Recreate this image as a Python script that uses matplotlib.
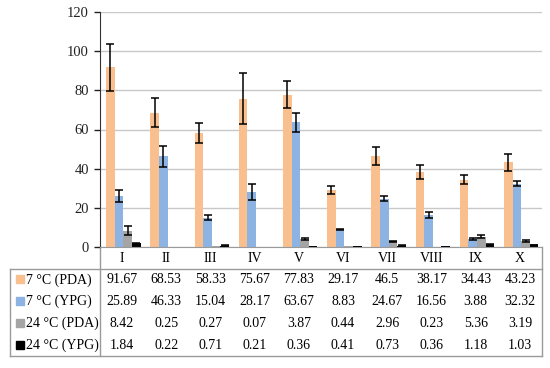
import matplotlib
matplotlib.use("Agg")
import matplotlib.pyplot as plt
import numpy as np

categories = ["I", "II", "III", "IV", "V", "VI", "VII", "VIII", "IX", "X"]
series_names = ["7 °C (PDA)", "7 °C (YPG)", "24 °C (PDA)", "24 °C (YPG)"]
pda7 = [91.67, 68.53, 58.33, 75.67, 77.83, 29.17, 46.5, 38.17, 34.43, 43.23]
ypg7 = [25.89, 46.33, 15.04, 28.17, 63.67, 8.83, 24.67, 16.56, 3.88, 32.32]
pda24 = [8.42, 0.25, 0.27, 0.07, 3.87, 0.44, 2.96, 0.23, 5.36, 3.19]
ypg24 = [1.84, 0.22, 0.71, 0.21, 0.36, 0.41, 0.73, 0.36, 1.18, 1.03]
table_text = [["91.67", "68.53", "58.33", "75.67", "77.83", "29.17", "46.5", "38.17", "34.43", "43.23"],
              ["25.89", "46.33", "15.04", "28.17", "63.67", "8.83", "24.67", "16.56", "3.88", "32.32"],
              ["8.42", "0.25", "0.27", "0.07", "3.87", "0.44", "2.96", "0.23", "5.36", "3.19"],
              ["1.84", "0.22", "0.71", "0.21", "0.36", "0.41", "0.73", "0.36", "1.18", "1.03"]]
# error bars (estimated; 0 = none drawn)
err_pda7 = [12, 7.5, 5, 13, 7, 2, 4.6, 3.5, 2.4, 4.4]
err_ypg7 = [3, 5.3, 1.5, 4, 5, 0.3, 1.2, 1.5, 0.5, 1.2]
err_pda24 = [2.3, 0, 0, 0, 0.5, 0, 0.3, 0, 1.0, 0.4]
err_ypg24 = [0.3, 0, 0.2, 0, 0, 0, 0.2, 0, 0.2, 0.2]

colors = ["#F9BF8F", "#8DB3E2", "#A5A5A5", "#000000"]
values = [pda7, ypg7, pda24, ypg24]
errors = [err_pda7, err_ypg7, err_pda24, err_ypg24]

plt.rcParams['font.family'] = ['Liberation Serif', 'DejaVu Serif']
W, H = 550, 368
fig = plt.figure(figsize=(W / 100, H / 100), dpi=100)

L, R, T, B = 100, 542, 12, 247
ax = fig.add_axes([L / W, 1 - B / H, (R - L) / W, (B - T) / H])
n = len(categories)
x = np.arange(n)
bw = 0.195
for k in range(4):
    xs = x + (k - 1.5) * bw + 0.03
    ax.bar(xs, values[k], bw, color=colors[k], zorder=2)
    v = np.array(values[k]); e = np.array(errors[k])
    m = e > 0
    ax.errorbar(xs[m], v[m], yerr=e[m], fmt="none", ecolor="black",
                elinewidth=1.1, capsize=2.6, capthick=1.1, zorder=3)
ax.set_xlim(-0.5, n - 0.5)
ax.set_ylim(0, 120)
ax.set_yticks(range(0, 121, 20))
ax.tick_params(axis='y', labelsize=10.5, length=4, width=1, colors="#222222", pad=4)
ax.set_xticks([])
ax.yaxis.grid(True, color="#C8C8C8", linewidth=1, zorder=0)
ax.set_axisbelow(True)
for s in ["top", "right"]:
    ax.spines[s].set_visible(False)
ax.spines["left"].set_color("#333333")
ax.spines["bottom"].set_color("#9A9A9A")

# data table drawn in pixel coordinates
tx = fig.add_axes([0, 0, 1, 1], zorder=-1)
tx.set_xlim(0, W)
tx.set_ylim(H, 0)
tx.axis("off")
lc = "#9A9A9A"
head_bot = 269
bottom = 356
rowh = (bottom - head_bot) / 4
colw = (R - L) / n
tx.plot([L, L], [B, bottom], color=lc, lw=1)
tx.plot([R, R], [B, bottom], color=lc, lw=1)
tx.plot([10, R], [head_bot, head_bot], color=lc, lw=1)
tx.plot([10, R], [bottom, bottom], color=lc, lw=1)
tx.plot([10, 10], [head_bot, bottom], color=lc, lw=1)
fs = 10
for i, c in enumerate(categories):
    tx.text(L + colw * (i + 0.5), (B + head_bot) / 2 + 1, c, ha="center", va="center", fontsize=fs)
for r in range(4):
    yc = head_bot + rowh * (r + 0.5)
    tx.add_patch(plt.Rectangle((16, yc - 4.5), 8, 8, color=colors[r]))
    tx.text(26, yc, series_names[r], ha="left", va="center", fontsize=fs)
    for i in range(n):
        tx.text(L + colw * (i + 0.5), yc, table_text[r][i], ha="center", va="center", fontsize=fs)

fig.savefig("out.png", dpi=100)
